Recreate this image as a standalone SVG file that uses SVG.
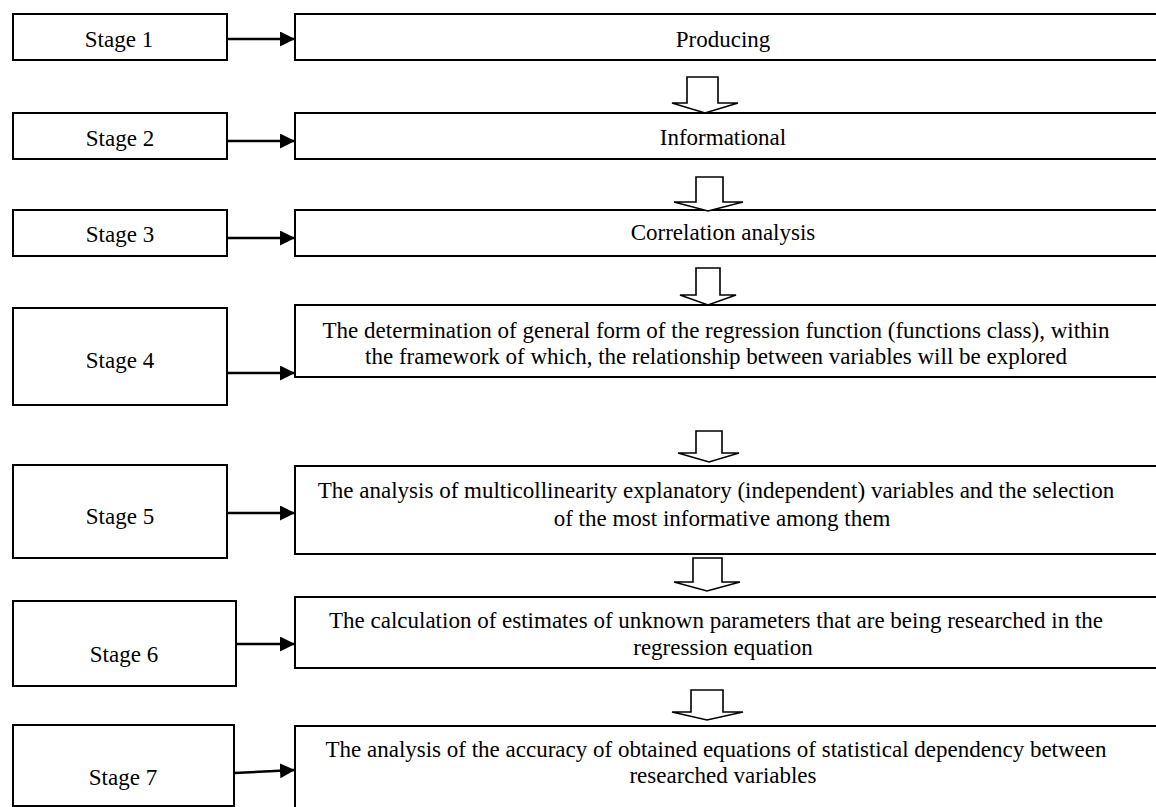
<svg xmlns="http://www.w3.org/2000/svg" width="1156" height="807" viewBox="0 0 1156 807">
<style>
.box{fill:#fff;stroke:#000;stroke-width:2}
.blk{fill:#fff;stroke:#000;stroke-width:1.6;stroke-linejoin:miter}
.con{stroke:#000;stroke-width:2.5;fill:none}
.c{text-anchor:middle}
</style>
<defs>
<marker id="ah" markerUnits="userSpaceOnUse" markerWidth="16" markerHeight="16" refX="15" refY="7.5" orient="auto">
<path d="M0,0 L15,7.5 L0,15 z" fill="#000"/>
</marker>
</defs>
<rect width="1156" height="807" fill="#fff"/>
<g font-family="'Liberation Serif', 'Times New Roman', Tinos, 'DejaVu Serif', serif" font-size="23" fill="#000">
<g id="stage1"><rect class="box" x="13" y="14" width="214" height="46"/><text class="c" x="119" y="46.5">Stage 1</text></g>
<g id="stage2"><rect class="box" x="13" y="113" width="214" height="46"/><text class="c" x="120" y="145.5">Stage 2</text></g>
<g id="stage3"><rect class="box" x="13" y="210" width="214" height="46"/><text class="c" x="120" y="242">Stage 3</text></g>
<g id="stage4"><rect class="box" x="13" y="308" width="214" height="97"/><text class="c" x="120" y="367.5">Stage 4</text></g>
<g id="stage5"><rect class="box" x="13" y="465" width="214" height="93"/><text class="c" x="120" y="524">Stage 5</text></g>
<g id="stage6"><rect class="box" x="13" y="601" width="223" height="85"/><text class="c" x="124" y="661.5">Stage 6</text></g>
<g id="stage7"><rect class="box" x="13" y="725" width="221" height="81"/><text class="c" x="123" y="785">Stage 7</text></g>

<g id="producing"><rect class="box" x="295" y="14" width="870" height="46"/><text class="c" x="723" y="46.5">Producing</text></g>
<g id="informational"><rect class="box" x="295" y="113" width="870" height="46"/><text class="c" x="723" y="145">Informational</text></g>
<g id="correlation"><rect class="box" x="295" y="210" width="870" height="46"/><text class="c" x="723" y="240">Correlation analysis</text></g>
<g id="regression-form"><rect class="box" x="295" y="305" width="870" height="72"/>
<text class="c" x="716" y="338">The determination of general form of the regression function (functions class), within</text>
<text class="c" x="716" y="364">the framework of which, the relationship between variables will be explored</text></g>
<g id="multicollinearity"><rect class="box" x="295" y="466" width="870" height="88"/>
<text class="c" x="716" y="498">The analysis of multicollinearity explanatory (independent) variables and the selection</text>
<text class="c" x="722" y="526">of the most informative among them</text></g>
<g id="estimates"><rect class="box" x="295" y="597" width="870" height="71"/>
<text class="c" x="716" y="628">The calculation of estimates of unknown parameters that are being researched in the</text>
<text class="c" x="723" y="655">regression equation</text></g>
<g id="accuracy"><rect class="box" x="295" y="726" width="870" height="90"/>
<text class="c" x="716" y="757">The analysis of the accuracy of obtained equations of statistical dependency between</text>
<text class="c" x="723" y="783">researched variables</text></g>
</g>
<g id="connectors">
<line class="con" x1="227" y1="39" x2="295" y2="39" marker-end="url(#ah)"/>
<line class="con" x1="227" y1="141" x2="295" y2="141" marker-end="url(#ah)"/>
<line class="con" x1="227" y1="238" x2="295" y2="238" marker-end="url(#ah)"/>
<line class="con" x1="227" y1="373" x2="295" y2="373" marker-end="url(#ah)"/>
<line class="con" x1="227" y1="513" x2="295" y2="513" marker-end="url(#ah)"/>
<line class="con" x1="236" y1="644" x2="295" y2="644" marker-end="url(#ah)"/>
<line class="con" x1="234" y1="773" x2="295" y2="770" marker-end="url(#ah)"/>
<polygon class="blk" points="687,77 718,77 718,103 738,103 705,113 672,103 687,103"/>
<polygon class="blk" points="696,177 723,177 723,202 743,202 708,211 674,202 696,202"/>
<polygon class="blk" points="696,268 720,268 720,295 736,295 708,305 680,295 696,295"/>
<polygon class="blk" points="696,431 722,431 722,453 739,453 709,462 678,453 696,453"/>
<polygon class="blk" points="693,558 722,558 722,582 740,582 707,591 674,582 693,582"/>
<polygon class="blk" points="691,690 723,690 723,712 743,712 707,720 672,712 691,712"/>
</g>
</svg>
